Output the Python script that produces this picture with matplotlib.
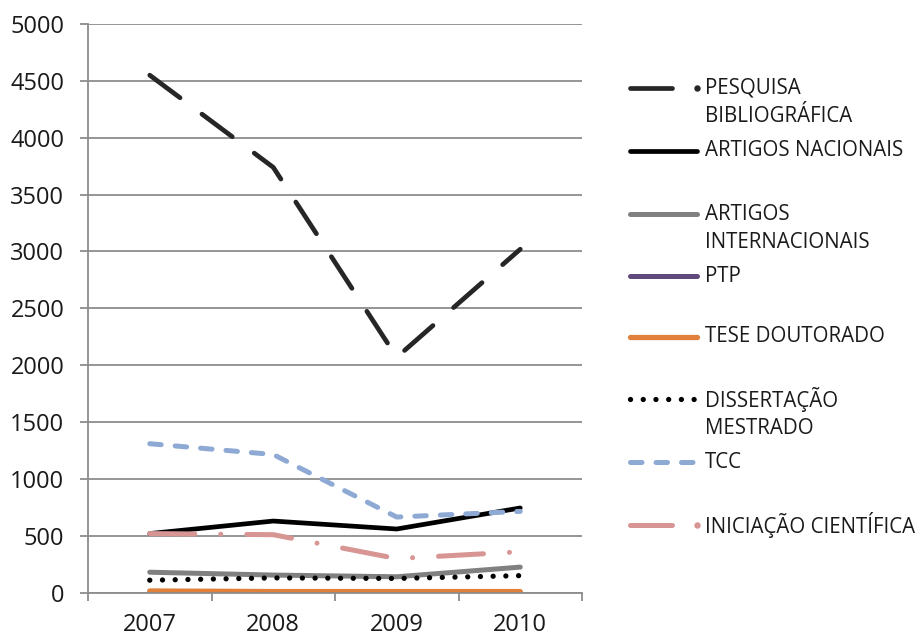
# -*- coding:utf-8 -*-
import matplotlib
matplotlib.use("Agg")
import matplotlib.pyplot as plt
from matplotlib.lines import Line2D
from matplotlib.ticker import FixedLocator, NullFormatter

plt.rcParams['font.family'] = ['Open Sans', 'DejaVu Sans']

YEARS = ["2007", "2008", "2009", "2010"]

PESQUISA = [4550, 3740, 2070, 3020]
ARTIGOS_NAC = [520, 630, 560, 745]
ARTIGOS_INT = [180, 155, 140, 225]
PTP = [2, 1, 1, 1]
TESE = [15, 10, 10, 10]
DISSERTACAO = [110, 130, 125, 150]
TCC = [1310, 1215, 665, 715]
INICIACAO = [520, 510, 300, 360]

LABELS = ["PESQUISA\nBIBLIOGRÁFICA", "ARTIGOS NACIONAIS", "ARTIGOS\nINTERNACIONAIS",
          "PTP", "TESE DOUTORADO", "DISSERTAÇÃO\nMESTRADO", "TCC", "INICIAÇÃO CIENTÍFICA"]

W, H = 922, 638
GRID = "#8c8c8c"
TXT = "#1a1a1a"

fig = plt.figure(figsize=(W / 100, H / 100), dpi=100)
ax = fig.add_axes([88 / W, 1 - 592.7 / H, (582 - 88) / W, (592.7 - 24) / H])

# series styles, in drawing order
styles = [
    (PESQUISA, dict(color="#262626", lw=3.4, ls=(0, (8.0, 5.8)))),
    (ARTIGOS_NAC, dict(color="#000000", lw=3.4, ls="-")),
    (ARTIGOS_INT, dict(color="#808080", lw=3.6, ls="-")),
    (PTP, dict(color="#604a7b", lw=3.6, ls="-")),
    (TESE, dict(color="#e0803a", lw=3.8, ls="-")),
    (DISSERTACAO, dict(color="#000000", lw=3.8, ls=(0, (0.01, 2.4)))),
    (TCC, dict(color="#8eaad4", lw=3.6, ls=(0, (2.3, 2.8)))),
    (INICIACAO, dict(color="#d79593", lw=3.6, ls=(0, (9.0, 5.2, 0.01, 5.2)))),
]

x = list(range(len(YEARS)))
for values, st in styles:
    ax.plot(x, values, color=st["color"], lw=st["lw"], linestyle=st["ls"],
            solid_capstyle="round", dash_capstyle="round", solid_joinstyle="round")

ax.set_xlim(-0.5, len(YEARS) - 0.5)
ax.set_ylim(0, 5000)
ax.set_yticks(range(0, 5001, 500))
ax.grid(axis="y", color=GRID, lw=1.3)
ax.set_axisbelow(True)

# category ticks sit between the years, labels at the centres
ax.xaxis.set_major_locator(FixedLocator([i - 0.5 for i in range(len(YEARS) + 1)]))
ax.xaxis.set_major_formatter(NullFormatter())
ax.xaxis.set_minor_locator(FixedLocator(x))
ax.set_xticklabels(YEARS, minor=True)
ax.tick_params(axis="x", which="major", length=6, width=1.3, color=GRID, direction="out")
ax.tick_params(axis="x", which="minor", length=0, pad=14.5, labelsize=17, labelcolor=TXT)
ax.tick_params(axis="y", length=6, width=1.3, color=GRID, pad=11, labelsize=17, labelcolor=TXT)

for side in ("top", "right"):
    ax.spines[side].set_visible(False)
for side in ("left", "bottom"):
    ax.spines[side].set_color(GRID)
    ax.spines[side].set_linewidth(1.3)

# legend drawn by hand: y of the first text line in px
legend_rows = [88, 151, 214, 276, 337, 399, 462, 525]
for (values, st), label, yp in zip(styles, LABELS, legend_rows):
    yf = 1 - yp / H
    if label.startswith("PESQUISA") or label.startswith("INICIA"):
        fig.add_artist(Line2D([630 / W, 672 / W], [yf, yf], transform=fig.transFigure,
                              color=st["color"], lw=st["lw"], solid_capstyle="round"))
        fig.add_artist(Line2D([697 / W], [yf], transform=fig.transFigure, marker="o",
                              markersize=3.6, color=st["color"], lw=0))
    else:
        fig.add_artist(Line2D([630 / W, 697 / W], [yf, yf], transform=fig.transFigure,
                              color=st["color"], lw=st["lw"], linestyle=st["ls"],
                              solid_capstyle="round", dash_capstyle="round"))
    for i, line in enumerate(label.split("\n")):
        fig.text(705 / W, 1 - (yp + i * 29) / H, line, fontsize=14.8, color=TXT,
                 va="center", ha="left")

fig.savefig("out.png", dpi=100)
